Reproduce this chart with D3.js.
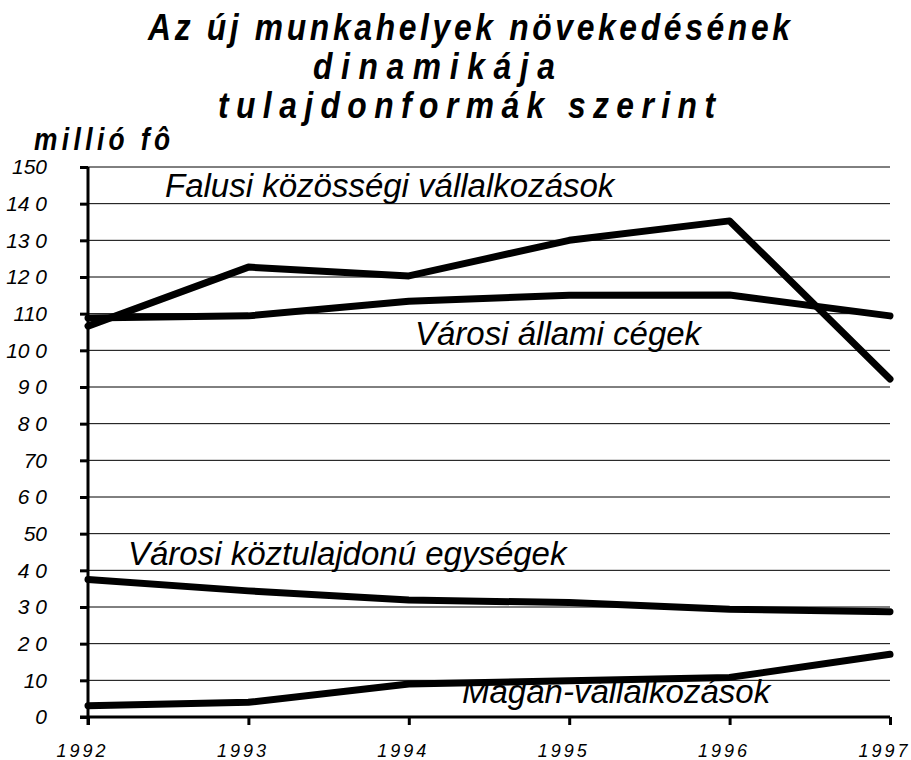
<!DOCTYPE html>
<html>
<head>
<meta charset="utf-8">
<script src="https://cdn.jsdelivr.net/npm/d3@7"></script>
<style>
  body { margin: 0; background: #fff; }
  svg { display: block; }
</style>
</head>
<body>
<svg id="chart" width="911" height="760"></svg>
<script>
// years on the x axis
const years = [1992, 1993, 1994, 1995, 1996, 1997];
// y tick values and their labels (the odd spacing is in the original)
const yTicks = [0, 10, 20, 30, 40, 50, 60, 70, 80, 90, 100, 110, 120, 130, 140, 150];
const yTickLabels = ["0", "10", "2 0", "3 0", "4 0", "50", "6 0", "70", "8 0", "9 0", "10 0", "110", "12 0", "13 0", "14 0", "150"];

// series values, million people
const falusi = [106.6, 122.7, 120.3, 130.0, 135.3, 92.2];
const varosiAllami = [108.8, 109.4, 113.4, 115.0, 115.1, 109.4];
const varosiKoz = [37.5, 34.4, 31.9, 31.2, 29.4, 28.7];
const magan = [3.1, 4.0, 9.0, 9.9, 10.8, 17.1];

const seriesNames = ["Falusi közösségi vállalkozások", "Városi állami cégek", "Városi köztulajdonú egységek", "Magán-vállalkozások"];

const titleLines = ["Az új munkahelyek növekedésének", "dinamikája", "tulajdonformák szerint"];

let svg = d3.select("#chart");
let font = "Liberation Sans, Arial, sans-serif";

// plot area
let plotL = 88, plotR = 890, plotT = 167, plotB = 717;

let x = d3.scalePoint().domain(years).range([plotL, plotR]);
let y = d3.scaleLinear().domain([0, 150]).range([plotB, plotT]);

// gridlines
svg.append("g")
  .selectAll("line")
  .data(yTicks.filter(d => d > 0))
  .join("line")
  .attr("x1", plotL)
  .attr("x2", plotR)
  .attr("y1", d => y(d))
  .attr("y2", d => y(d))
  .attr("stroke", "#000")
  .attr("stroke-width", 1);

// y axis
let yAxis = svg.append("g")
  .attr("transform", "translate(" + plotL + ",0)")
  .call(d3.axisLeft(y).tickValues(yTicks).tickSize(8).tickFormat((d, i) => yTickLabels[i]));
yAxis.select(".domain").attr("stroke-width", 3).attr("d", "M0," + (plotB + 8) + "V" + plotT);
yAxis.selectAll(".tick line").attr("stroke-width", 3);
yAxis.selectAll(".tick text")
  .attr("x", -41)
  .attr("font-family", font)
  .attr("font-style", "italic")
  .attr("font-size", 21)
  .attr("fill", "#000");

// x axis
let xAxis = svg.append("g")
  .attr("transform", "translate(0," + plotB + ")")
  .call(d3.axisBottom(x).tickSize(8).tickFormat(d => String(d)));
xAxis.select(".domain").attr("stroke-width", 3).attr("d", "M" + (plotL - 8) + ",0H" + plotR);
xAxis.selectAll(".tick line").attr("stroke-width", 3);
xAxis.selectAll(".tick text")
  .attr("x", -6)
  .attr("y", 27)
  .attr("font-family", font)
  .attr("font-style", "italic")
  .attr("font-size", 18)
  .attr("letter-spacing", 3)
  .attr("fill", "#000");

// series lines
let line = d3.line()
  .x((d, i) => x(years[i]))
  .y(d => y(d));

[falusi, varosiAllami, varosiKoz, magan].forEach(function (s) {
  svg.append("path")
    .datum(s)
    .attr("d", line)
    .attr("fill", "none")
    .attr("stroke", "#000")
    .attr("stroke-width", 7)
    .attr("stroke-linejoin", "round")
    .attr("stroke-linecap", "round");
});

// series labels placed on the chart
let labelPos = [[165, 197], [415, 345], [128, 565], [462, 703]];
svg.append("g")
  .selectAll("text")
  .data(seriesNames)
  .join("text")
  .attr("x", (d, i) => labelPos[i][0])
  .attr("y", (d, i) => labelPos[i][1])
  .attr("font-family", font)
  .attr("font-style", "italic")
  .attr("font-size", 33)
  .attr("fill", "#000")
  .text(d => d);

// title: condensed bold italic, spread to the widths of the original lines
let sx = 0.86;
let titleX = [148, 313, 218];
let titleW = [642, 242, 497];
let titleY = [40, 79, 118];
svg.append("g")
  .selectAll("text")
  .data(titleLines)
  .join("text")
  .attr("transform", (d, i) => "translate(" + titleX[i] + "," + titleY[i] + ") scale(" + sx + ",1)")
  .attr("textLength", (d, i) => titleW[i] / sx)
  .attr("lengthAdjust", "spacing")
  .attr("font-family", font)
  .attr("font-weight", "bold")
  .attr("font-style", "italic")
  .attr("font-size", 37)
  .attr("fill", "#000")
  .text(d => d);

// unit label
svg.append("text")
  .attr("transform", "translate(34,150) scale(0.85,1)")
  .attr("textLength", 136 / 0.85)
  .attr("lengthAdjust", "spacing")
  .attr("font-family", font)
  .attr("font-weight", "bold")
  .attr("font-style", "italic")
  .attr("font-size", 31)
  .attr("fill", "#000")
  .text("millió fô");
</script>
</body>
</html>
